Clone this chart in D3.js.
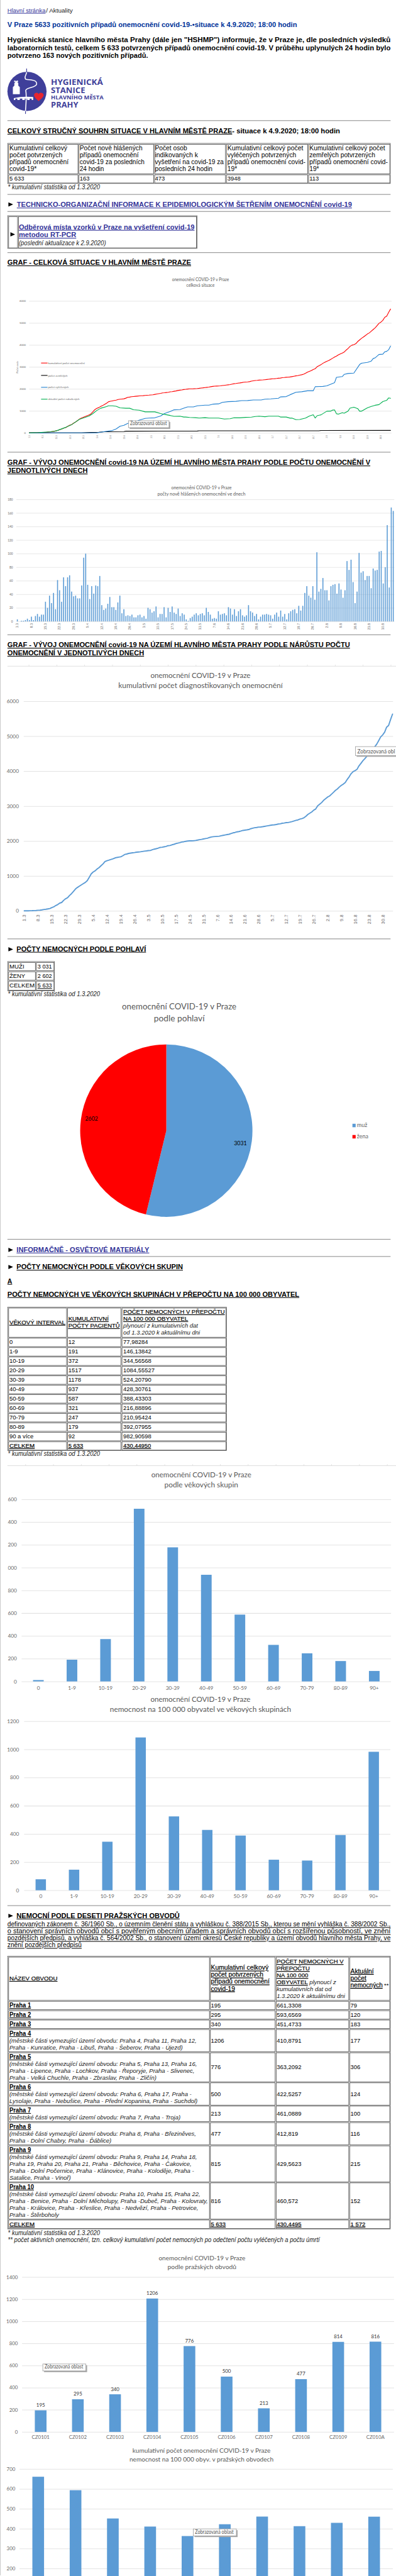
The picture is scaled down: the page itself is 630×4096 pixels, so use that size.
<!DOCTYPE html>
<html lang="cs"><head><meta charset="utf-8">
<script src="https://cdn.jsdelivr.net/npm/d3@7"></script>
<style>html,body{margin:0;padding:0;background:#fff;overflow:hidden}svg{display:block}</style>
</head><body><script>
// ---------- DATA ----------
const weekLabels=["1.3","8.3","15.3","22.3","29.3","5.4","12.4","19.4","26.4","3.5","10.5","17.5","24.5","31.5","7.6","14.6","21.6","28.6","5.7","12.7","19.7","26.7","2.8","9.8","16.8","23.8","30.8"];
const dailyNew=[3,0,1,1,2,4,2,7,2,8,11,7,10,10,29,20,38,27,42,18,61,46,29,65,52,65,68,44,37,38,34,34,53,94,100,54,33,52,41,53,52,67,24,17,19,26,36,21,21,17,28,38,12,18,8,9,8,10,6,6,9,10,6,8,4,20,18,13,15,22,6,11,11,21,6,20,14,22,13,11,19,8,12,10,3,1,5,7,10,12,9,11,12,9,20,14,10,4,5,4,15,10,11,12,9,21,19,10,18,8,15,18,9,7,9,24,15,13,8,11,3,7,10,10,11,10,9,4,10,13,7,16,7,11,3,12,15,17,18,12,23,16,23,42,52,38,35,52,32,102,44,48,64,46,46,31,52,54,55,41,56,47,35,46,89,76,91,58,27,44,101,72,74,61,67,67,49,78,75,76,103,104,56,80,142,50,168,163];
const cumulative=[3,3,4,5,7,11,13,20,22,30,41,48,58,68,97,117,155,182,224,242,303,349,378,443,495,560,628,672,709,747,781,815,868,962,1062,1116,1149,1201,1242,1295,1347,1414,1438,1455,1474,1490,1515,1530,1540,1550,1578,1616,1628,1646,1654,1663,1671,1681,1687,1693,1702,1712,1718,1726,1730,1750,1768,1781,1796,1818,1824,1835,1846,1867,1873,1893,1907,1929,1942,1953,1972,1980,1992,2002,2005,2006,2011,2018,2028,2040,2049,2060,2072,2081,2101,2115,2125,2129,2134,2138,2153,2163,2174,2186,2195,2216,2235,2245,2263,2271,2286,2304,2313,2320,2329,2353,2368,2381,2389,2400,2403,2410,2420,2430,2441,2451,2460,2464,2474,2487,2494,2510,2517,2528,2531,2543,2558,2575,2593,2605,2628,2644,2667,2709,2761,2799,2834,2886,2918,3010,3054,3102,3166,3212,3258,3289,3341,3395,3450,3491,3547,3594,3629,3675,3764,3840,3931,3989,4016,4055,4156,4228,4302,4363,4430,4497,4546,4624,4699,4775,4878,4982,5038,5118,5260,5310,5478,5633];
const recoveredDays=[0,35,37,39,43,45,47,49,51,55,57,60,62,65,68,70,73,75,78,80,82,85,87,91,93,95,98,100,103,107,110,113,116,120,122,125,129,130,133,135,138,141,144,147,148,152,154,158,159,162,163,165,168,171,172,175,177,178,179,181,183,184,185,186,187];
const recoveredValues=[0,0,30,60,105,180,300,345,430,500,580,660,675,685,765,880,975,1050,1060,1125,1180,1180,1230,1260,1260,1305,1320,1390,1420,1435,1465,1470,1495,1495,1530,1545,1575,1635,1650,1735,1845,1870,1915,1915,2100,2115,2140,2280,2525,2560,2660,2700,2720,3110,3170,3205,3265,3380,3410,3565,3580,3685,3710,3780,3948];
const activeDays=[0,5,11,14,19,22,26,31,33,35,37,40,41,43,45,47,50,52,54,57,60,65,68,70,73,75,78,80,81,83,86,88,91,93,98,101,104,106,109,112,115,117,119,122,124,129,130,133,135,136,138,140,143,145,147,148,149,151,154,156,157,158,159,160,162,163,165,166,168,170,171,172,175,177,179,181,183,185,186,187];
const activeValues=[0,15,50,90,255,375,615,765,880,1020,1120,1195,1230,1230,1210,1140,1120,1120,1050,1030,955,955,880,840,790,750,760,720,720,700,690,675,690,675,675,630,645,685,685,705,715,745,760,735,760,760,720,720,670,675,600,610,675,765,825,675,780,820,985,990,1035,1045,870,850,915,895,990,1125,1165,1105,985,990,1140,1200,1255,1285,1425,1480,1590,1572];
const deathDays=[0,27,32,36,39,49,50,87,88,150,151,187];
const deathValues=[0,0,20,30,50,60,75,82,92,95,110,113];
const overviewLegend=["kumulativní počet onemocnění","počet zemřelých","počet vyléčených","aktuální počet nakažených"];

const summaryHeads=[["Kumulativní celkový","počet potvrzených","případů onemocnění","covid-19*"],["Počet nově hlášených","případů onemocnění","covid-19 za posledních","24 hodin"],["Počet osob","indikovaných k","vyšetření na covid-19 za","posledních 24 hodin"],["Kumulativní celkový počet","vyléčených potvrzených","případů onemocnění covid-","19*"],["Kumulativní celkový počet","zemřelých potvrzených","případů onemocnění covid-","19*"]];
const summaryValues=["5 633","163","473","3948","113"];

const sexLabels=["muž","žena"];
const sexValues=[3031,2602];
const sexTableLabels=["MUŽI","ŽENY","CELKEM"];
const sexTableValues=["3 031","2 602","5 633"];

const ageLabels=["0","1-9","10-19","20-29","30-39","40-49","50-59","60-69","70-79","80-89","90+"];
const ageCounts=[12,191,372,1517,1178,937,587,321,247,179,92];
const ageRates=[77.98284,146.13842,344.56568,1084.55527,524.20790,428.30761,388.43303,216.88896,210.95424,392.07955,982.90598];
const ageTableLabels=["0","1-9","10-19","20-29","30-39","40-49","50-59","60-69","70-79","80-89","90 a více"];
const ageRateText=["77,98284","146,13842","344,56568","1084,55527","524,20790","428,30761","388,43303","216,88896","210,95424","392,07955","982,90598"];

const districtNames=["Praha 1","Praha 2","Praha 3","Praha 4","Praha 5","Praha 6","Praha 7","Praha 8","Praha 9","Praha 10"];
const districtNotes=[[],[],[],
["(městské části vymezující území obvodu: Praha 4, Praha 11, Praha 12,","Praha - Kunratice, Praha - Libuš, Praha - Šeberov, Praha - Újezd)"],
["(městské části vymezující území obvodu: Praha 5, Praha 13, Praha 16,","Praha - Lipence, Praha - Lochkov, Praha - Řeporyje, Praha - Slivenec,","Praha - Velká Chuchle, Praha - Zbraslav, Praha - Zličín)"],
["(městské části vymezující území obvodu: Praha 6, Praha 17, Praha -","Lysolaje, Praha - Nebušice, Praha - Přední Kopanina, Praha - Suchdol)"],
["(městské části vymezující území obvodu: Praha 7, Praha - Troja)"],
["(městské části vymezující území obvodu: Praha 8, Praha - Březiněves,","Praha - Dolní Chabry, Praha - Ďáblice)"],
["(městské části vymezující území obvodu: Praha 9, Praha 14, Praha 18,","Praha 19, Praha 20, Praha 21, Praha - Běchovice, Praha - Čakovice,","Praha - Dolní Počernice, Praha - Klánovice, Praha - Koloděje, Praha -","Satalice, Praha - Vinoř)"],
["(městské části vymezující území obvodu: Praha 10, Praha 15, Praha 22,","Praha - Benice, Praha - Dolní Měcholupy, Praha -Dubeč, Praha - Kolovraty,","Praha - Královice, Praha - Křeslice, Praha - Nedvězí, Praha - Petrovice,","Praha - Štěrboholy"]];
const districtCumText=["195","295","340","1206","776","500","213","477","815","816"];
const districtRateText=["661,3308","593,6569","451,4733","410,8791","363,2092","422,5257","461,0889","412,819","429,5623","460,572"];
const districtActive=["79","120","183","177","306","124","100","116","215","152"];
const districtCodes=["CZ0101","CZ0102","CZ0103","CZ0104","CZ0105","CZ0106","CZ0107","CZ0108","CZ0109","CZ010A"];
const districtCounts=[195,295,340,1206,776,500,213,477,814,816];
const districtRates=[661.3308,593.6569,451.4733,410.8791,363.2092,422.5257,461.0889,412.819,429.5623,460.572];

// ---------- LAYOUT (text widths measured on the reference, separate from data) ----------
const summaryHeadW=[[117,107,119.5,55],[126.7,119,131,49],[65,87,139,116],[153,139,157.4,19.5],[153,133,158.5,19.5]];
const districtNoteW=[[],[],[],[378,350],[379,374,297],[368,380],[345.6],[377,206],[379,368,373,124],[385.6,401,381.5,100]];

// ---------- SETUP ----------
const K=630/800;
const svg=d3.select("body").append("svg").attr("width",630).attr("height",4096);
const root=svg.append("g").attr("transform",`scale(${K})`);
const SANS="'Liberation Sans',Arial,sans-serif", CHART="Lato,'Open Sans',sans-serif";
const BLUE="#5b9bd5", LINK="#333399", GRID="#e3e3e3", GREY="#666";

function T(x,y,s,o={}){
  const t=(o.g||root).append("text").attr("x",x).attr("y",y).text(s)
    .attr("font-family",o.font||SANS).attr("font-size",o.fs||13).attr("fill",o.fill||"#000")
    .attr("text-anchor",o.anchor||"start");
  if(o.bold)t.attr("font-weight","bold");
  if(o.italic)t.attr("font-style","italic");
  if(o.u)t.attr("text-decoration","underline");
  if(o.semi)t.attr("stroke",o.fill||"#000").attr("stroke-width",.25);
  if(o.w)t.attr("textLength",o.w).attr("lengthAdjust","spacingAndGlyphs");
  return t;
}
const HR=y=>root.append("rect").attr("x",15).attr("y",y-.75).attr("width",774).attr("height",1.5).attr("fill","#999");
const ARROW=(x,y)=>root.append("path").attr("d",`M${x},${y-8.5}L${x+9.5},${y-4.25}L${x},${y}Z`).attr("fill","#000");
function TABLE(x0,x1,y0,y1,cols,rows){
  root.append("rect").attr("x",x0+.5).attr("y",y0+.5).attr("width",x1-x0-1).attr("height",y1-y0-1).attr("fill","none").attr("stroke","#555");
  const cx=[x0+1,...cols,x1-1], cy=[y0+1,...rows,y1-1];
  for(let r=0;r<cy.length-1;r++)for(let c=0;c<cx.length-1;c++)
    root.append("rect").attr("x",cx[c]+1.5).attr("y",cy[r]+1.5).attr("width",cx[c+1]-cx[c]-2).attr("height",cy[r+1]-cy[r]-2).attr("fill","none").attr("stroke","#444");
}
function TIP(x,y,w,h,tx,label,lw){
  root.append("rect").attr("x",x+3).attr("y",y+3).attr("width",w).attr("height",h).attr("fill","#aaa");
  root.append("rect").attr("x",x+.5).attr("y",y+.5).attr("width",w).attr("height",h).attr("fill","#fff").attr("stroke","#999");
  T(tx,y+h-4,label||"Zobrazovaná oblast",{font:CHART,fs:11,fill:"#555",w:lw||78});
}
function TOPLINE(y,x0,step){
  root.append("rect").attr("x",15).attr("y",y-.5).attr("width",785).attr("height",1.2).attr("fill","#ddd");
  d3.range(14).forEach(i=>root.append("rect").attr("x",x0+i*step).attr("y",y-3).attr("width",1).attr("height",3).attr("fill","#ddd"));
}
function TITLE(cx,y1,y2,l1,w1,l2,w2,fs){
  T(cx,y1,l1,{font:CHART,fs,fill:"#595959",anchor:"middle",w:w1});
  T(cx,y2,l2,{font:CHART,fs,fill:"#595959",anchor:"middle",w:w2});
}
function YAXIS(y,x0,x1,ticks,right,fs,gridW){
  const g=root.append("g").attr("transform",`translate(${x0},0)`)
    .call(d3.axisLeft(y).tickValues(ticks).tickSize(-(x1-x0)).tickPadding(x0-right).tickFormat(d3.format("d")));
  g.select(".domain").remove();
  g.selectAll("line").attr("stroke",GRID).attr("stroke-width",gridW||1.3);
  g.selectAll("text").attr("font-family",CHART).attr("font-size",fs).attr("fill",GREY);
  return g;
}
function CATAXIS(x,y0,base,fs){
  const g=root.append("g").attr("transform",`translate(0,${y0})`).call(d3.axisBottom(x).tickSize(0));
  g.select(".domain").remove();
  g.selectAll("text").attr("y",base-y0).attr("dy",0).attr("font-family",CHART).attr("font-size",fs).attr("fill",GREY);
}
function DAYAXIS(x,y0,off,fs,ls){
  const g=root.append("g").attr("transform",`translate(0,${y0})`)
    .call(d3.axisBottom(x).tickValues(weekLabels.map((_,i)=>i*7)).tickSize(0).tickFormat((_,i)=>weekLabels[i]));
  g.select(".domain").remove();
  g.selectAll("text").attr("transform","rotate(-90)").attr("text-anchor","end").attr("x",-off).attr("y",0).attr("dy",".35em")
   .attr("font-family",SANS).attr("font-size",fs).attr("fill",GREY).attr("letter-spacing",ls||0);
}
// x is a band scale, keys its domain in the same order as values
function BARS(values,keys,x,y,w){
  root.append("g").selectAll("rect").data(values).join("rect")
    .attr("x",(d,i)=>x(keys[i])+(x.bandwidth()-w)/2).attr("width",w)
    .attr("y",d=>y(d)).attr("height",d=>y(0)-y(d)).attr("fill",BLUE);
}
const LINE=(xs,ys,x,y,color,sw)=>root.append("path")
  .attr("d",d3.line().x(d=>x(d)).y((d,i)=>y(ys[i]))(xs))
  .attr("fill","none").attr("stroke",color).attr("stroke-width",sw).attr("stroke-linejoin","round").attr("stroke-linecap","round");

// page edge
root.append("rect").attr("x",0).attr("y",0).attr("width",1).attr("height",5200).attr("fill","#bbb");

// ---------- HEADER ----------
T(15,25,"Hlavní stránka",{fs:12,fill:LINK,u:1,w:77});
T(93,25,"/ Aktuality",{fs:12,fill:"#222",w:54});
T(15,55,"V Praze 5633 pozitivních případů onemocnění covid-19-•situace k 4.9.2020; 18:00 hodin",{fs:14,bold:1,fill:"#003399",w:585});
T(15,85,"Hygienická stanice hlavního města Prahy (dále jen \"HSHMP\") informuje, že v Praze je, dle posledních výsledků",{fs:14,bold:1,w:774});
T(15,101,"laboratorních testů, celkem 5 633 potvrzených případů onemocnění covid-19. V průběhu uplynulých 24 hodin bylo",{fs:14,bold:1,w:774});
T(15,117,"potvrzeno 163 nových pozitivních případů.",{fs:14,bold:1,w:284});

// logo
const IND="#3f3f9a";
root.append("circle").attr("cx",54.5).attr("cy",184.5).attr("r",39.5).attr("fill",IND);
root.append("path").attr("d","M53.8,138.5V146").attr("stroke",IND).attr("stroke-width",1.5);
root.append("path").attr("d","M51.5,224V230").attr("stroke",IND).attr("stroke-width",1.5);
root.append("path").attr("d","M53.8,146C53,152 48,156 52,160C60,162 75,160 74,170C72,178 52,176 52,183C54,192 53,205 51.5,224").attr("fill","none").attr("stroke","#fff").attr("stroke-width",2);
root.append("path").attr("d","M26,190V176L29,173V168L33,163L37,168V173L40,176V190Z").attr("fill","#fff");
root.append("circle").attr("cx",30).attr("cy",164).attr("r",1.5).attr("fill","#fff");
root.append("circle").attr("cx",35).attr("cy",164).attr("r",1.5).attr("fill","#fff");
root.append("path").attr("d","M28,202V198Q47,194 67,196V202H64V199H60V202H55V199H50V202H45V199H40V202H35V199H31V202Z").attr("fill","#fff");
root.append("path").attr("d","M78,204C72,199 68,194 69,191C70,187 76,186 78,190C80,186 87,187 88,191C89,195 83,200 78,204Z").attr("fill","#e8262f");
[["HYGIENICKÁ",103,172,105,15],["STANICE",103,188.5,69,15],["HLAVNÍHO MĚSTA",103,201,106,10.5],["PRAHY",103,217,55,15]].forEach(d=>
  T(d[1],d[2],d[0],{fs:d[4],bold:1,fill:IND,w:d[3],font:"'Open Sans',sans-serif"}));

HR(243.5);
T(15,269,"CELKOVÝ STRUČNÝ SOUHRN SITUACE V HLAVNÍM MĚSTĚ PRAZE",{fs:13.5,bold:1,u:1,w:454});
T(469,269," - situace k 4.9.2020; 18:00 hodin",{fs:13.5,bold:1,w:218});

const sumCols=[158,311,456,622], sumTx=[19,161,313,459.5,625];
TABLE(15,789,289,371,sumCols,[351.5]);
summaryHeads.forEach((ls,c)=>ls.forEach((s,i)=>T(sumTx[c],304+i*14,s,{fs:13,w:summaryHeadW[c][i]})));
summaryValues.forEach((s,c)=>T(sumTx[c],365,s,{fs:12}));
T(16,382,"* kumulativní statistika od 1.3.2020",{fs:13,italic:1,fill:"#222",w:186});
HR(392.6);
ARROW(17,417);
T(34,418,"TECHNICKO-ORGANIZAČNÍ INFORMACE K EPIDEMIOLOGICKÝM ŠETŘENÍM ONEMOCNĚNÍ covid-19",{fs:13.5,bold:1,fill:LINK,u:1,w:677});
HR(427);
TABLE(15,398.5,435,502,[36],[]);
ARROW(21,477.5);
T(38,463,"Odběrová místa vzorků v Praze na vyšetření covid-19",{fs:14,bold:1,fill:LINK,u:1,w:355});
T(38,479,"metodou RT-PCR",{fs:14,bold:1,fill:LINK,u:1,w:116});
T(38,495,"(poslední aktualizace k 2.9.2020)",{fs:13,italic:1,fill:"#222",w:176});
HR(510);
T(15,534.7,"GRAF - CELKOVÁ SITUACE V HLAVNÍM MĚSTĚ PRAZE",{fs:14,bold:1,u:1,w:371});

// ---------- CHART 1: overview lines ----------
TITLE(405,567,578.5,"onemocnění COVID-19 v Praze",115,"celková situace",57,8.5);
{
  const y=d3.scaleLinear().domain([0,6000]).range([874,607.7]);
  const x=d3.scaleLinear().domain([0,187]).range([59,789]);
  YAXIS(y,59,791,[0,1000,2000,3000,4000,5000,6000],52,5.5,1.2);
  DAYAXIS(x,874,5,4,0);
  T(37,741.5,"Počet osob",{font:CHART,fs:5,fill:GREY,anchor:"middle"}).attr("transform","rotate(-90 37 741.5)");
  LINE(cumulative.map((_,i)=>i),cumulative,x,y,"#ff0000",1.4);
  LINE(deathDays,deathValues,x,y,"#000",1.4);
  LINE(recoveredDays,recoveredValues,x,y,"#2080d0",1.4);
  LINE(activeDays,activeValues,x,y,"#00b050",1.4);
  const legColors=["#ff0000","#000","#2080d0","#00b050"], legY=[733,758,782,806];
  overviewLegend.forEach((s,i)=>{
    root.append("rect").attr("x",83).attr("y",legY[i]-.7).attr("width",13).attr("height",1.4).attr("fill",legColors[i]);
    T(97,legY[i]+2,s,{font:CHART,fs:5.5,fill:GREY});
  });
  TIP(259,849,82,14,263,null,74);
}
HR(913);
T(15,938.7,"GRAF - VÝVOJ ONEMOCNĚNÍ covid-19 NA ÚZEMÍ HLAVNÍHO MĚSTA PRAHY PODLE POČTU ONEMOCNĚNÍ V",{fs:14,bold:1,u:1,w:733});
T(15,955,"JEDNOTLIVÝCH DNECH",{fs:14,bold:1,u:1,w:162});

// ---------- CHART 2: daily bars ----------
TITLE(407,988,1000,"onemocnění COVID-19 v Praze",122,"počty nově hlášených onemocnění ve dnech",178,9);
{
  const y=d3.scaleLinear().domain([0,180]).range([1254.7,1008.3]);
  const days=d3.range(dailyNew.length);
  const x=d3.scaleBand().domain(days).range([33,796.5]);
  YAXIS(y,33,796.5,d3.range(0,181,20),26,6,1.1);
  BARS(dailyNew,days,x,y,2);
  DAYAXIS(x,1254.7,3.5,6.2,.3);
}
HR(1281.7);
T(15,1306.7,"GRAF - VÝVOJ ONEMOCNĚNÍ covid-19 NA ÚZEMÍ HLAVNÍHO MĚSTA PRAHY PODLE NÁRŮSTU POČTU",{fs:14,bold:1,u:1,w:692});
T(15,1323,"ONEMOCNĚNÍ V JEDNOTLIVÝCH DNECH",{fs:14,bold:1,u:1,w:276});

// ---------- CHART 3: cumulative line ----------
TOPLINE(1345,58,56.25);
TITLE(405,1369,1389,"onemocnění COVID-19 v Praze",202,"kumulativní počet diagnostikovaných onemocnění",332,15);
{
  const y=d3.scaleLinear().domain([0,6000]).range([1839.3,1416]);
  const x=d3.scaleLinear().domain([0,187]).range([49,793]);
  YAXIS(y,48,794,[0,1000,2000,3000,4000,5000,6000],38,10.5,1.3);
  DAYAXIS(x,1839.3,7,9,.5);
  LINE(cumulative.map((_,i)=>i),cumulative,x,y,BLUE,2.4);
  TIP(717.5,1507,90,18,722,"Zobrazovaná obl",76);
}
HR(1895.7);
ARROW(17,1921);
T(33.5,1920.7,"POČTY NEMOCNÝCH PODLE POHLAVÍ",{fs:13.5,bold:1,u:1,w:261.5});

// sex table
TABLE(15,110.5,1941,2001,[72],[1960.5,1979.7]);
const sexLabelW=[30,32,51];
sexTableLabels.forEach((s,i)=>T(19,1956+i*19,s,{fs:12,w:sexLabelW[i]}));
sexTableValues.forEach((s,i)=>T(76,1956+i*19,s,{fs:12,u:i===2,w:29}));
T(16,2011,"* kumulativní statistika od 1.3.2020",{fs:13,italic:1,fill:"#222",w:186});

// ---------- CHART: pie ----------
TITLE(362,2038.7,2062,"onemocnění COVID-19 v Praze",231,"podle pohlaví",102.6,18);
{
  const pie=d3.pie().sort(null)(sexValues);
  const arc=d3.arc().innerRadius(0).outerRadius(174);
  const colors=[BLUE,"#ff0000"];
  root.append("g").attr("transform","translate(336,2283)").selectAll("path").data(pie).join("path")
    .attr("d",arc).attr("fill",(d,i)=>colors[i]);
  T(485.6,2312,String(sexValues[0]),{font:CHART,fs:12,anchor:"middle",w:26});
  T(185,2263,String(sexValues[1]),{font:CHART,fs:12,anchor:"middle",w:26});
  sexLabels.forEach((s,i)=>{
    root.append("rect").attr("x",712).attr("y",2269+i*22.7).attr("width",6.5).attr("height",7).attr("fill",colors[i]);
    T(721,2275.5+i*22.7,s,{font:CHART,fs:12,fill:GREY,w:i?23:21});
  });
}
HR(2502.3);
ARROW(17,2528);
T(33.5,2528,"INFORMAČNĚ - OSVĚTOVÉ MATERIÁLY",{fs:13.5,bold:1,fill:LINK,u:1,w:268});
HR(2537);
ARROW(17,2562.5);
T(33.5,2562.7,"POČTY NEMOCNÝCH PODLE VĚKOVÝCH SKUPIN",{fs:13.5,bold:1,u:1,w:336});
T(15,2591.3,"A",{fs:13.5,bold:1,u:1,w:9.6});
T(15,2618,"POČTY NEMOCNÝCH VE VĚKOVÝCH SKUPINÁCH V PŘEPOČTU NA 100 000 OBYVATEL",{fs:13.5,bold:1,u:1,w:589.6});

// age table
{
  const rows=[2700.5,...d3.range(1,12).map(i=>2700.5+i*19)];
  TABLE(15,458,2638.7,2929.5,[135,245],rows);
  T(19,2674,"VĚKOVÝ INTERVAL",{fs:12.1,u:1,semi:1,w:113});
  T(138,2666.7,"KUMULATIVNÍ",{fs:12.1,u:1,semi:1,w:81.5});
  T(138,2680.7,"POČTY PACIENTŮ",{fs:12.1,u:1,semi:1,w:104});
  T(249,2652.7,"POČET NEMOCNÝCH V PŘEPOČTU",{fs:12.1,u:1,semi:1,w:205});
  T(249,2666.7,"NA 100 000 OBYVATEL",{fs:12.1,u:1,semi:1,w:131});
  T(249,2680.7,"plynoucí z kumulativních dat",{fs:12.5,italic:1,fill:"#222",w:151});
  T(249,2694.7,"od 1.3.2020 k aktuálnímu dni",{fs:12.5,italic:1,fill:"#222",w:155});
  ageTableLabels.forEach((s,i)=>{
    const yy=2714+i*19;
    T(19,yy,s,{fs:12});
    T(138,yy,String(ageCounts[i]),{fs:12});
    T(249,yy,ageRateText[i],{fs:12});
  });
  T(19,2923,"CELKEM",{fs:12,u:1,semi:1,w:51});
  T(138,2923,"5 633",{fs:12,u:1,semi:1,w:30});
  T(249,2923,"430,44950",{fs:12,u:1,semi:1,w:56});
  T(16,2940,"* kumulativní statistika od 1.3.2020",{fs:13,italic:1,fill:"#222",w:186});
}

// ---------- CHART 4: by age ----------
TOPLINE(2959.3,51.3,56.2);
TITLE(406.7,2983.3,3003.3,"onemocnění COVID-19 v Praze",202,"podle věkových skupin",149,15);
{
  svg.append("clipPath").attr("id","clipAge").attr("clipPathUnits","userSpaceOnUse").append("rect").attr("x",-28).attr("y",-10).attr("width",900).attr("height",4000);
  const y=d3.scaleLinear().domain([0,1600]).range([3395,3027.3]);
  const x=d3.scaleBand().domain(ageLabels).range([43.6,790]);
  YAXIS(y,43.6,790,d3.range(0,1601,200),34,10.5).attr("clip-path","url(#clipAge)");
  BARS(ageCounts,ageLabels,x,y,21.5);
  CATAXIS(x,3395,3411.7,10.5);
}

// ---------- CHART 5: age rate ----------
TITLE(405,3436.7,3456.7,"onemocnění COVID-19 v Praze",202,"nemocnost na 100 000 obyvatel ve věkových skupinách",366,15);
{
  const y=d3.scaleLinear().domain([0,1200]).range([3816.7,3475.3]);
  const x=d3.scaleBand().domain(ageLabels).range([48.7,788.7]);
  YAXIS(y,48.7,788.7,d3.range(0,1201,200),38.5,10.5);
  BARS(ageRates,ageLabels,x,y,21);
  CATAXIS(x,3816.7,3832.7,10.5);
}
HR(3847.7);
ARROW(17,3872.5);
T(33.5,3872.7,"NEMOCNÍ PODLE DESETI PRAŽSKÝCH OBVODŮ",{fs:13.5,bold:1,u:1,w:329.5});
[["definovaných zákonem č. 36/1960 Sb., o územním členění státu a vyhláškou  č. 388/2015 Sb., kterou se mění vyhláška č. 388/2002 Sb.,",774],
 ["o stanovení správních obvodů obcí s pověřeným obecním úřadem a správních obvodů obcí s rozšířenou působností, ve znění",774],
 ["pozdějších předpisů, a vyhláška č. 564/2002 Sb., o stanovení území okresů České republiky a území obvodů hlavního města Prahy, ve",774],
 ["znění pozdějších předpisů",150]].forEach((d,i)=>T(15,3890+i*14,d[0],{fs:13,u:1,w:d[1]}));

// district table
{
  const rowsY=[4039.5,4058.3,4077.3,4096.3,4143.3,4204,4251,4284.3,4331.3,4406,4481];
  TABLE(15,789,3949.3,4501,[423.6,556.4,705],rowsY);
  const c=[19,426,559,708];
  T(c[0],3998.7,"NÁZEV OBVODU",{fs:12,u:1,semi:1,w:97});
  [["Kumulativní celkový",116.4],["počet potvrzených",106],["případů onemocnění",118.5],["covid-19",48.7]].forEach((d,i)=>T(c[1],3977.7+i*14,d[0],{fs:13,u:1,semi:1,w:d[1]}));
  [["POČET NEMOCNÝCH V",135],["PŘEPOČTU",66.7],["NA 100 000",63.6]].forEach((d,i)=>T(c[2],3964.7+i*14,d[0],{fs:12,u:1,semi:1,w:d[1]}));
  T(c[2],4006.7,"OBYVATEL",{fs:12,u:1,semi:1,w:63});
  T(c[2]+66,4006.7,"plynoucí z",{fs:12.5,italic:1,fill:"#222",w:54});
  T(c[2],4020.7,"kumulativních dat od",{fs:12.5,italic:1,fill:"#222",w:110.8});
  T(c[2],4034.7,"1.3.2020 k aktuálnímu dni",{fs:12.5,italic:1,fill:"#222",w:138});
  [["Aktuální",47],["počet",32]].forEach((d,i)=>T(c[3],3984.7+i*14,d[0],{fs:13,u:1,semi:1,w:d[1]}));
  T(c[3],4012.7,"nemocných",{fs:13,u:1,semi:1,w:65});
  T(c[3]+68,4012.7,"**",{fs:12});
  const allY=[4053.3,4072.3,4091.3,4110.3,4157.3,4218.3,4265.3,4298.3,4345.3,4420];
  const numY=[4053.3,4072.3,4091.3,4124,4178,4232,4272,4312,4373,4448];
  districtNames.forEach((s,i)=>{
    T(c[0],allY[i],s,{fs:13,bold:1,u:1,w:i===9?49.5:43.5});
    districtNotes[i].forEach((n,j)=>T(c[0],allY[i]+(j+1)*14,n,{fs:12.5,italic:1,fill:"#222",w:districtNoteW[i][j]}));
    T(c[1],numY[i],districtCumText[i],{fs:12});
    T(c[2],numY[i],districtRateText[i],{fs:12});
    T(c[3],numY[i],districtActive[i],{fs:12});
  });
  T(c[0],4495,"CELKEM",{fs:12,u:1,semi:1,w:51});
  T(c[1],4495,"5 633",{fs:12,u:1,semi:1,w:30});
  T(c[2],4495,"430,4495",{fs:12,u:1,semi:1,w:50});
  T(c[3],4495,"1 572",{fs:12,u:1,semi:1,w:30});
  T(16,4512.7,"* kumulativní statistika od 1.3.2020",{fs:13,italic:1,fill:"#222",w:186});
  T(16,4526.7,"** počet aktivních onemocnění, tzn. celkový kumulativní počet nemocných po odečtení počtu vyléčených a počtu úmrtí",{fs:13,italic:1,fill:"#222",w:630});
}

// ---------- CHART 6: districts ----------
TITLE(408,4564,4581.7,"onemocnění COVID-19 v Praze",175,"podle pražských obvodů",139,13);
{
  const y=d3.scaleLinear().domain([0,1400]).range([4910.3,4597.7]);
  const x=d3.scaleBand().domain(districtCodes).range([44.6,796]);
  YAXIS(y,44.6,796,d3.range(0,1401,200),36,10);
  BARS(districtCounts,districtCodes,x,y,23.6);
  districtCounts.forEach((v,i)=>T(x(districtCodes[i])+x.bandwidth()/2,y(v)-7,String(v),{font:CHART,fs:10,fill:"#333",anchor:"middle"}));
  CATAXIS(x,4910.3,4925,10);
  TIP(86,4772.7,87,14,90);
}

// ---------- CHART 7: district rates (the axis runs on below the window, only 200 and up are visible) ----------
TITLE(407,4952.3,4970,"kumulativní počet onemocnění COVID-19 v Praze",279,"nemocnost na 100 000 obyv. v pražských obvodech",291,13);
{
  const y=d3.scaleLinear().domain([0,700]).range([5266.5,4985.3]);
  const x=d3.scaleBand().domain(districtCodes).range([39.5,793.5]);
  YAXIS(y,39.5,793.5,d3.range(200,701,100),30.8,10);
  BARS(districtRates,districtCodes,x,y,23.6);
  TIP(390,5105.7,87,14,394);
}
</script></body></html>
